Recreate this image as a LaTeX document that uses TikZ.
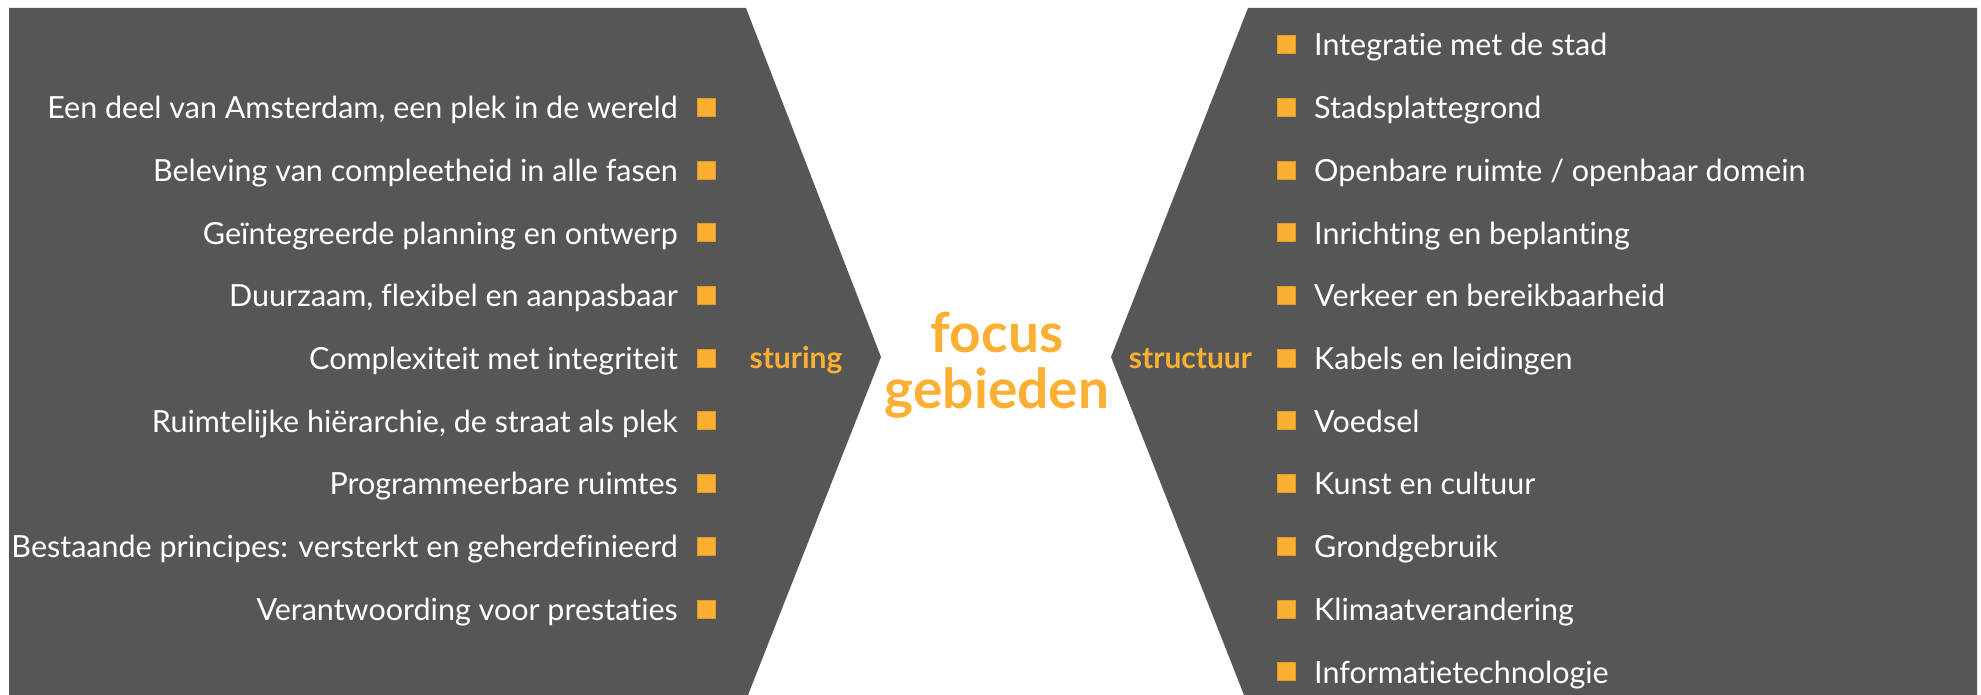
\documentclass[tikz,border=0pt]{standalone}
\usepackage{fontspec}
\setmainfont{Lato}[Ligatures=NoCommon]
\definecolor{panel}{HTML}{565656}
\definecolor{accent}{HTML}{FBB034}
\begin{document}
\begin{tikzpicture}[x=1pt,y=-1pt,
  item/.style={text=white,font=\fontsize{30.5}{36}\selectfont,inner sep=0pt},
  bullet/.style={fill=accent,draw=accent!88!black,line width=0.6pt,minimum size=18pt,inner sep=0pt},
  side/.style={text=accent,font=\bfseries\fontsize{30}{34}\selectfont,inner sep=0pt,anchor=base},
  title/.style={text=accent,font=\bfseries\fontsize{55}{60}\selectfont,inner sep=0pt,anchor=base}]
\useasboundingbox[fill=white] (0,0) rectangle (1981,695);
\fill[panel] (9,8) -- (746,8) -- (881,357) -- (748,695) -- (9,695) -- cycle;
\fill[panel] (1977,8) -- (1248,8) -- (1111,357) -- (1244,695) -- (1977,695) -- cycle;
\foreach \t [count=\i] in {{Een deel van Amsterdam, een plek in de wereld},
  {Beleving van compleetheid in alle fasen},
  {Geïntegreerde planning en ontwerp},
  {Duurzaam, flexibel en aanpasbaar},
  {Complexiteit met integriteit},
  {Ruimtelijke hiërarchie, de straat als plek},
  {Programmeerbare ruimtes},
  {Bestaande principes: versterkt en geherdefinieerd},
  {Verantwoording voor prestaties}} {
  \node[bullet] (LB\i) at (706.5,{44.5+62.7*\i}) {};
  \node[item,anchor=base east] (L\i) at (678,{56+62.7*\i}) {\t};
}
\foreach \t [count=\j from 0] in {{Integratie met de stad},
  {Stadsplattegrond},
  {Openbare ruimte / openbaar domein},
  {Inrichting en beplanting},
  {Verkeer en bereikbaarheid},
  {Kabels en leidingen},
  {Voedsel},
  {Kunst en cultuur},
  {Grondgebruik},
  {Klimaatverandering},
  {Informatietechnologie}} {
  \node[bullet] (RB\j) at (1286.5,{44.5+62.7*\j}) {};
  \node[item,anchor=base west] (R\j) at (1314,{56+62.7*\j}) {\t};
}
\node[side] (sturing) at (796,368) {sturing};
\node[side] (structuur) at (1190.5,368) {structuur};
\node[title] (focus) at (997,352) {focus};
\node[title] (gebieden) at (997,408) {gebieden};
\end{tikzpicture}
\end{document}
